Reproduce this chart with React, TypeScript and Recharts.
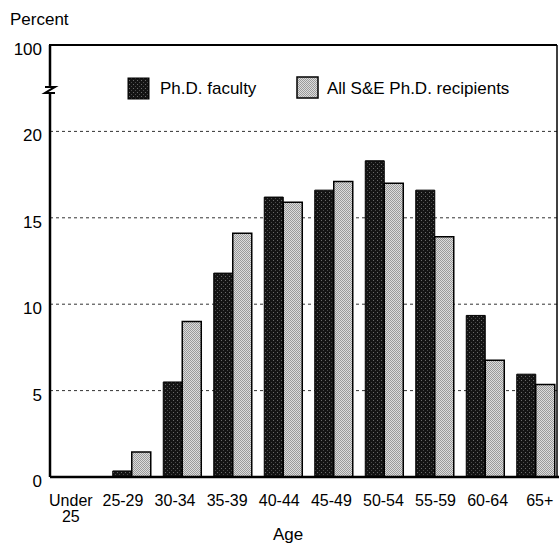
import React from 'react';
import { BarChart, Bar, XAxis, YAxis, CartesianGrid } from 'recharts';

// ---- data ----
const ageGroups = ['Under 25', '25-29', '30-34', '35-39', '40-44', '45-49', '50-54', '55-59', '60-64', '65+'];
const facultyPct = [0, 0.35, 5.5, 11.8, 16.2, 16.6, 18.3, 16.6, 9.35, 5.95];
const recipientsPct = [0, 1.45, 9.0, 14.1, 15.9, 17.1, 17.0, 13.9, 6.75, 5.35];
const seriesNames = ['Ph.D. faculty', 'All S&E Ph.D. recipients'];
const yTickValues = [0, 5, 10, 15, 20, 25];
const yTickLabels = ['0', '5', '10', '15', '20', '100'];
const axisBreakValue = 22.4;
const yAxisTitle = 'Percent';
const xAxisTitle = 'Age';

const data = ageGroups.map((g, i) => ({ group: g, faculty: facultyPct[i], recipients: recipientsPct[i] }));

// ---- layout ----
const W = 565;
const H = 543;
const PLOT_LEFT = 50;
const PLOT_TOP = 45;
const PLOT_BOTTOM = 477;
const FRAME_RIGHT = 557;
const FONT = '"Liberation Sans", Arial, Helvetica, sans-serif';
const Y_MAX = 25;

const yToPx = (v: number) => PLOT_TOP + ((Y_MAX - v) / Y_MAX) * (PLOT_BOTTOM - PLOT_TOP);

const YTick = (props: any) => {
  const { x, y, payload } = props;
  const idx = yTickValues.indexOf(payload.value);
  return (
    <text x={x} y={y + 10} textAnchor="end" fontSize={17} fontFamily={FONT} fill="#000">
      {yTickLabels[idx]}
    </text>
  );
};

const XTick = (props: any) => {
  const { x, y, payload, index } = props;
  const label: string = payload.value;
  const parts = label.startsWith('Under') ? label.split(' ') : [label];
  const dx = (index - 6.5) * 1.6;
  return (
    <text x={x + dx} y={y} textAnchor="middle" fontSize={16} fontFamily={FONT} fill="#000">
      {parts.map((p, i) => (
        <tspan key={i} x={x + dx} dy={i === 0 ? 21 : 16}>
          {p}
        </tspan>
      ))}
    </text>
  );
};

const Patterns = () => (
  <svg width={0} height={0} style={{ position: 'absolute' }}>
    <defs>
      <pattern id="facPat" width="4" height="4" patternUnits="userSpaceOnUse">
        <rect width="4" height="4" fill="#141414" />
        <rect x="1" y="0" width="1" height="1" fill="#6a6a6a" />
        <rect x="3" y="2" width="1" height="1" fill="#4a4a4a" />
      </pattern>
      <pattern id="recPat" width="2" height="2" patternUnits="userSpaceOnUse">
        <rect width="2" height="2" fill="#dcdcdc" />
        <rect x="0" y="0" width="1" height="1" fill="#9a9a9a" />
        <rect x="1" y="1" width="1" height="1" fill="#9a9a9a" />
      </pattern>
    </defs>
  </svg>
);

const Overlay = () => {
  const breakY = yToPx(axisBreakValue);
  return (
    <svg width={W} height={H} style={{ position: 'absolute', left: 0, top: 0, pointerEvents: 'none' }}>
      {/* frame */}
      <line x1={PLOT_LEFT - 1} y1={PLOT_TOP} x2={FRAME_RIGHT} y2={PLOT_TOP} stroke="#000" strokeWidth={2} />
      <line x1={FRAME_RIGHT} y1={PLOT_TOP} x2={FRAME_RIGHT} y2={PLOT_BOTTOM} stroke="#000" strokeWidth={1.5} />
      {/* axis break */}
      <rect x={PLOT_LEFT - 3} y={breakY - 4} width={6} height={8} fill="#fff" />
      <path
        d={`M${PLOT_LEFT - 5},${breakY - 3} L${PLOT_LEFT + 5},${breakY - 3} L${PLOT_LEFT - 5},${breakY + 3} L${PLOT_LEFT + 5},${breakY + 3}`}
        stroke="#000"
        strokeWidth={2}
        fill="none"
      />
      {/* titles */}
      <text x={10} y={25} fontSize={17} fontFamily={FONT} fill="#000">
        {yAxisTitle}
      </text>
      <text x={288} y={540} textAnchor="middle" fontSize={17} fontFamily={FONT} fill="#000">
        {xAxisTitle}
      </text>
      {/* legend */}
      <rect x={128} y={78} width={21} height={21} fill="url(#facPat)" stroke="#000" strokeWidth={1} />
      <text x={160} y={94} fontSize={17} fontFamily={FONT} fill="#000">
        {seriesNames[0]}
      </text>
      <rect x={297} y={77} width={21} height={21} fill="url(#recPat)" stroke="#000" strokeWidth={1.5} />
      <text x={327} y={94} fontSize={17} fontFamily={FONT} fill="#000">
        {seriesNames[1]}
      </text>
    </svg>
  );
};

export default function App() {
  return (
    <div style={{ position: 'absolute', left: 0, top: 0, width: 559, height: 543, overflow: 'hidden', background: '#fff' }}>
      <Patterns />
      <BarChart
        width={W}
        height={H}
        data={data}
        margin={{ top: PLOT_TOP, right: 4, bottom: 0, left: 0 }}
        barCategoryGap="12.4%"
        barGap={0}
      >
        <CartesianGrid vertical={false} stroke="#333" strokeDasharray="3 3" />
        <XAxis
          dataKey="group"
          height={66}
          padding={{ left: 6, right: 0 }}
          interval={0}
          tickLine={false}
          axisLine={{ stroke: '#000', strokeWidth: 2.5 }}
          tick={<XTick />}
        />
        <YAxis
          width={PLOT_LEFT}
          domain={[0, Y_MAX]}
          ticks={yTickValues}
          tickLine={false}
          tickSize={0}
          tickMargin={8}
          axisLine={{ stroke: '#000', strokeWidth: 2.5 }}
          tick={<YTick />}
        />
        <Bar dataKey="faculty" name={seriesNames[0]} fill="url(#facPat)" stroke="#000" strokeWidth={1} isAnimationActive={false} />
        <Bar dataKey="recipients" name={seriesNames[1]} fill="url(#recPat)" stroke="#000" strokeWidth={1.5} isAnimationActive={false} />
      </BarChart>
      <Overlay />
    </div>
  );
}
